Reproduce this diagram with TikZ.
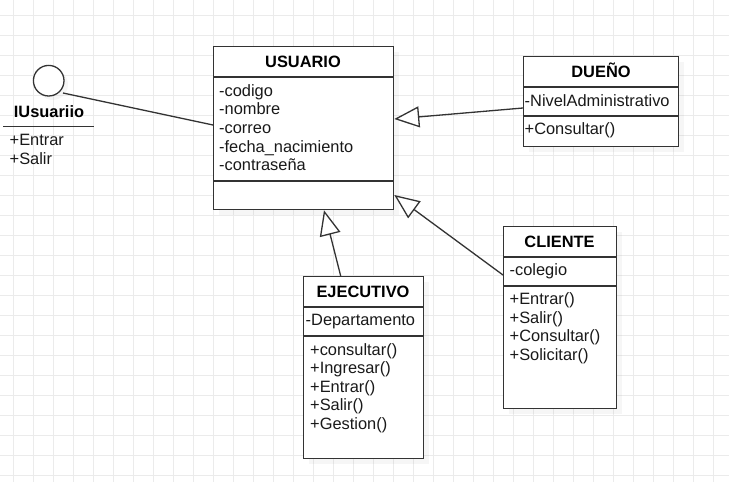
\documentclass[tikz,border=0pt]{standalone}
\usepackage{fontspec}
\setmainfont{Liberation Sans}
\usetikzlibrary{arrows.meta,calc,shadows}
\definecolor{gridc}{HTML}{EBEBEB}
\definecolor{boxc}{HTML}{333333}
\begin{document}
\begin{tikzpicture}[x=1pt,y=-1pt,
  classbox/.style={draw=boxc, line width=1.3pt, fill=white, inner sep=0pt, anchor=north west,
    drop shadow={shadow xshift=5pt, shadow yshift=-5pt, opacity=0.07}},
  sepline/.style={draw=boxc, line width=1.3pt},
  ttl/.style={font=\fontsize{16.4}{18.7}\selectfont\bfseries, anchor=base, inner sep=0pt, text=black},
  txt/.style={font=\fontsize{16.4}{18.7}\selectfont, anchor=base west, inner sep=0pt, text=black!90},
  gen/.style={draw=boxc, line width=1.3pt, -{Triangle[fill=white, length=25pt, width=21pt]}},
  assoc/.style={draw=boxc, line width=1.3pt}
]
\useasboundingbox (0,0) rectangle (729,482);
\fill[white] (0,0) rectangle (729,482);
% grid
\foreach \x in {13,33,...,713} \draw[gridc, line width=1pt] (\x,0) -- (\x,482);
\foreach \y in {15,35,...,475} \draw[gridc, line width=1pt] (0,\y) -- (729,\y);

% ---------- interface IUsuariio ----------
\node[circle, draw=boxc, line width=1.3pt, fill=white, minimum size=30.6pt, inner sep=0pt,
  drop shadow={shadow xshift=4pt, shadow yshift=-4pt, opacity=0.07}] (lol) at (48.7,80.7) {};
\node[ttl] (ititle) at (49,117.5) {IUsuariio};
\coordinate (iul) at (3,126.7);
\coordinate (iur) at (94,126.7);
\draw[sepline] (iul) -- (iur);
\node[txt] (ie1) at (9.5,145.5) {+Entrar};
\node[txt] (ie2) at (9.5,164.2) {+Salir};
\coordinate (lolend) at (63,93);

% ---------- USUARIO ----------
\node[classbox, minimum width=180pt, minimum height=163pt] (usuario) at (213,46) {};
\draw[sepline] ($(usuario.north west)+(0,31)$) -- ($(usuario.north east)+(0,31)$);
\draw[sepline] ($(usuario.north west)+(0,135)$) -- ($(usuario.north east)+(0,135)$);
\node[ttl] (utitle) at (303,67.4) {USUARIO};
\foreach [count=\i from 0] \t in {-codigo,-nombre,-correo,-fecha\_nacimiento,-contraseña}
  \node[txt] (ua\i) at (219,96+18.7*\i) {\t};

% ---------- DUEÑO ----------
\node[classbox, minimum width=155pt, minimum height=90pt] (dueno) at (523,56) {};
\draw[sepline] ($(dueno.north west)+(0,31)$) -- ($(dueno.north east)+(0,31)$);
\draw[sepline] ($(dueno.north west)+(0,60)$) -- ($(dueno.north east)+(0,60)$);
\node[ttl] (dtitle) at (601,77.5) {DUEÑO};
\node[txt] (da0) at (524.5,106.5) {-NivelAdministrativo};
\node[txt] (dm0) at (524.5,134.8) {+Consultar()};

% ---------- EJECUTIVO ----------
\node[classbox, minimum width=120pt, minimum height=182pt] (ejecutivo) at (303,276) {};
\draw[sepline] ($(ejecutivo.north west)+(0,31)$) -- ($(ejecutivo.north east)+(0,31)$);
\draw[sepline] ($(ejecutivo.north west)+(0,60)$) -- ($(ejecutivo.north east)+(0,60)$);
\node[ttl] (etitle) at (363,297.5) {EJECUTIVO};
\node[txt] (ea0) at (305.5,325.5) {-Departamento};
\foreach [count=\i from 0] \t in {+consultar(),+Ingresar(),+Entrar(),+Salir(),+Gestion()}
  \node[txt] (em\i) at (310,355+18.5*\i) {\t};

% ---------- CLIENTE ----------
\node[classbox, minimum width=113pt, minimum height=182pt] (cliente) at (503,226) {};
\draw[sepline] ($(cliente.north west)+(0,31)$) -- ($(cliente.north east)+(0,31)$);
\draw[sepline] ($(cliente.north west)+(0,60)$) -- ($(cliente.north east)+(0,60)$);
\node[ttl] (ctitle) at (559.5,247.5) {CLIENTE};
\node[txt] (ca0) at (509.5,275.5) {-colegio};
\foreach [count=\i from 0] \t in {+Entrar(),+Salir(),+Consultar(),+Solicitar()}
  \node[txt] (cm\i) at (509.5,304.5+18.6*\i) {\t};

% ---------- connectors ----------
\draw[assoc] (lolend) -- ($(usuario.north west)+(0,79)$);
\draw[gen] ($(dueno.north west)+(0,52)$) -- ($(usuario.north east)+(0,73)$);
\draw[gen] ($(ejecutivo.north west)+(37.7,0)$) -- ($(usuario.south west)+(111,0)$);
\draw[gen] ($(cliente.north west)+(0,49)$) -- ($(usuario.north east)+(0,149)$);
\end{tikzpicture}
\end{document}
